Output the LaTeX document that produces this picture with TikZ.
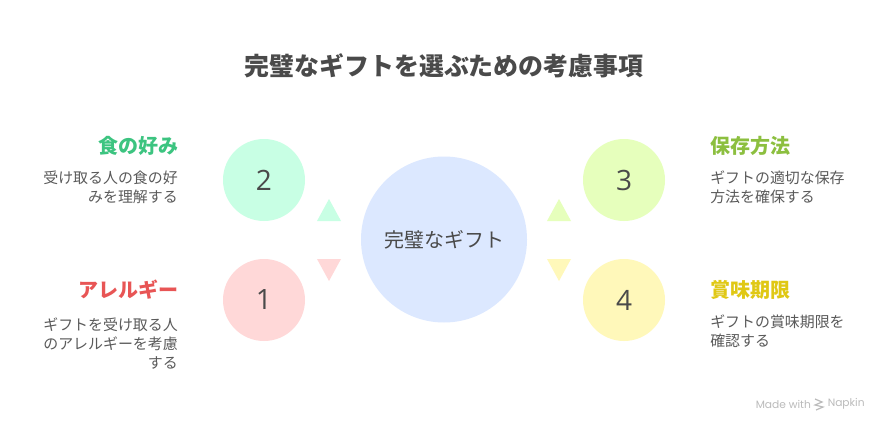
\documentclass[tikz,border=0pt]{standalone}
\usepackage{fontspec}
\setmainfont{Noto Sans CJK JP}
\newfontfamily\numfont{Open Sans}
\newfontfamily\markfont{Poppins}
\definecolor{ink}{HTML}{4A4A4A}
\definecolor{bodyink}{HTML}{5A5A5A}
\definecolor{cblue}{HTML}{DCE8FF}
\definecolor{cmint}{HTML}{C8FFE4}
\definecolor{cpink}{HTML}{FFD8D8}
\definecolor{clime}{HTML}{E6FFBC}
\definecolor{cyell}{HTML}{FFF8BA}
\definecolor{hmint}{HTML}{3CC480}
\definecolor{hred}{HTML}{E85555}
\definecolor{hlime}{HTML}{8CBF3F}
\definecolor{hyell}{HTML}{E0C814}
\definecolor{markgrey}{HTML}{BBBBBB}
\tikzset{
  disc/.style={circle,inner sep=0,minimum size=61.5pt,text=ink,font=\numfont\fontsize{21}{21}\selectfont},
  head/.style={inner sep=0,font=\bfseries\fontsize{15}{18}\selectfont},
  bodyl/.style={inner sep=0,text=bodyink,align=right,anchor=north east,font=\fontsize{11.2}{14}\selectfont},
  bodyr/.style={inner sep=0,text=bodyink,align=left,anchor=north west,font=\fontsize{11.2}{14}\selectfont},
}
\begin{document}
\begin{tikzpicture}[x=0.75pt,y=-0.75pt]
\useasboundingbox (0,0) rectangle (888,432);
\fill[white] (0,0) rectangle (888,432);
\node[inner sep=0,text=ink,font=\bfseries\fontsize{18.7}{22}\selectfont] (title) at (444,66) {完璧なギフトを選ぶための考慮事項};
\node[disc,fill=cblue,minimum size=124.5pt,font=\fontsize{15}{18}\selectfont] (hub) at (444,239.5) {\raisebox{-1pt}{完璧なギフト}};
\node[disc,fill=cmint] (n2) at (264,180) {\raisebox{-0.6pt}{2}};
\node[disc,fill=cpink] (n1) at (264,300) {\raisebox{-0.6pt}{1}};
\node[disc,fill=clime] (n3) at (624,180) {\raisebox{-0.6pt}{3}};
\node[disc,fill=cyell] (n4) at (624,300) {\raisebox{-0.6pt}{4}};
\fill[cmint] (329,199) -- (341,221) -- (317,221) -- cycle;
\fill[cpink] (329,281) -- (341,259) -- (317,259) -- cycle;
\fill[clime] (559,199) -- (571,221) -- (547,221) -- cycle;
\fill[cyell] (559,281) -- (571,259) -- (547,259) -- cycle;
\node[head,text=hmint,anchor=east] (h2) at (178.5,146) {食の好み};
\node[bodyl] (b2) at (178,170.5) {受け取る人の食の好\\みを理解する};
\node[head,text=hred,anchor=east] (h1) at (178.5,290) {アレルギー};
\node[bodyl] (b1) at (178,318) {ギフトを受け取る人\\のアレルギーを考慮\\する};
\node[head,text=hlime,anchor=west] (h3) at (710,146) {保存方法};
\node[bodyr] (b3) at (710,170.5) {ギフトの適切な保存\\方法を確保する};
\node[head,text=hyell,anchor=west] (h4) at (710,290) {賞味期限};
\node[bodyr] (b4) at (710,314.5) {ギフトの賞味期限を\\確認する};
\node[inner sep=0,anchor=west,text=markgrey,font=\markfont\fontsize{8}{10}\selectfont] (made) at (755.5,404) {Made with};
\node[inner sep=0,anchor=west,text=markgrey,font=\markfont\fontsize{8}{10}\selectfont] (nap) at (827.5,404) {Napkin};
\draw[markgrey,line width=0.9pt] (815,399) -- (822,402) -- (815,405) -- (823,407) -- (816,410);
\end{tikzpicture}
\end{document}
